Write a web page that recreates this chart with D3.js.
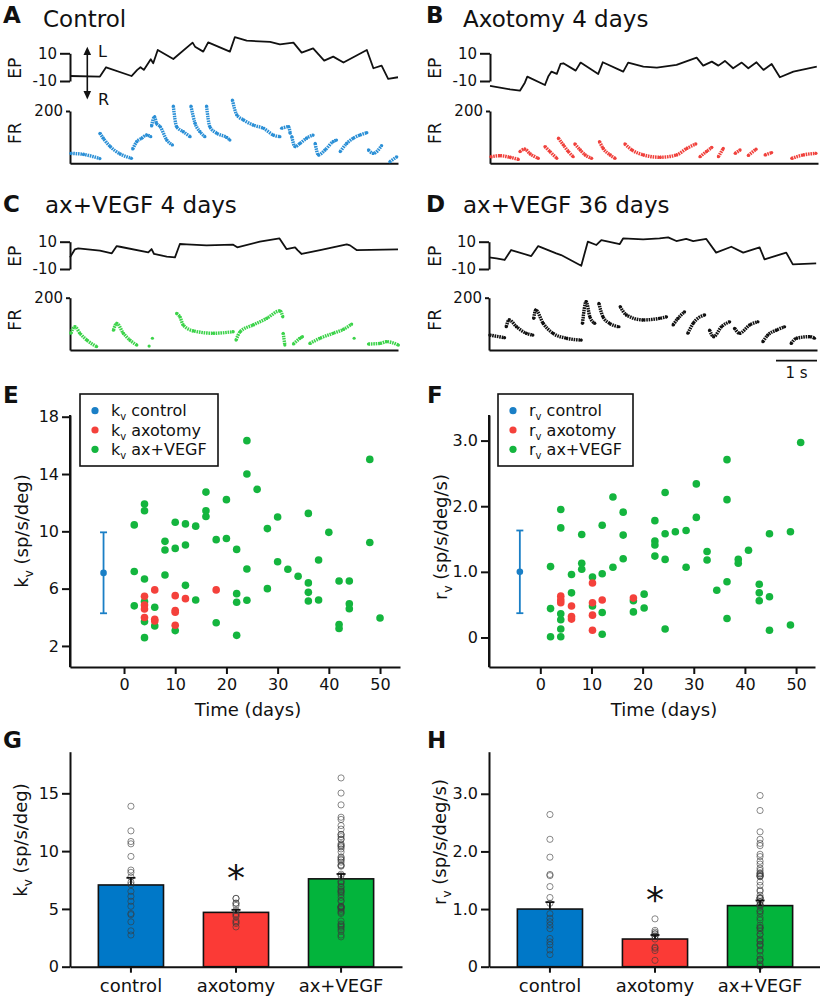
<!DOCTYPE html>
<html><head><meta charset="utf-8">
<script src="https://cdn.jsdelivr.net/npm/d3@7"></script>
<style>
body{margin:0;background:#fff;}
svg text{font-family:"DejaVu Sans",sans-serif;fill:#111;}
</style></head>
<body><svg id="fig" width="820" height="1000"></svg>
<script>
// ---------------- DATA ----------------
// Eye position (deg) vs time (s) traces
const epA = [[0,-6.4],[0.73,-6.8],[0.88,-0.1],[1.50,-6.4],[1.64,-2.0],[1.72,-0.1],[1.80,-2.0],[1.97,5.7],[2.03,2.8],[2.14,12.4],[2.52,5.9],[2.99,17.7],[3.05,14.8],[3.25,11.2],[3.37,17.9],[3.90,11.2],[4.02,21.6],[4.31,19.1],[4.88,18.2],[5.12,16.5],[5.45,17.7],[5.65,10.5],[5.93,13.6],[6.20,4.7],[6.42,7.6],[6.67,3.3],[7.24,12.4],[7.40,-0.8],[7.60,1.1],[7.76,-8.5],[8.0,-7.3]];
const epB = [[0,-13.6],[0.49,-16.0],[0.73,-17.0],[0.85,-11.2],[0.91,-6.8],[1.34,-12.9],[1.42,-6.8],[1.50,-3.2],[1.63,-4.9],[1.72,2.3],[1.79,2.8],[2.09,-2.5],[2.21,3.3],[2.64,-4.9],[2.75,3.5],[3.25,-3.2],[3.37,3.3],[3.74,0.4],[4.07,-0.3],[4.55,1.6],[5.04,6.9],[5.20,1.1],[5.41,4.0],[5.57,1.1],[5.73,4.5],[5.93,-0.8],[6.14,3.3],[6.30,-0.8],[6.50,3.5],[6.67,-2.0],[6.87,2.3],[7.07,-7.3],[7.40,-3.2],[7.97,0.4]];
const epC = [[0,-1.5],[0.12,4.4],[0.20,5.1],[0.73,3.4],[1.02,1.5],[1.14,6.8],[1.22,6.3],[1.91,2.2],[1.99,4.6],[2.05,1.0],[2.36,-1.0],[2.56,-1.5],[2.68,8.3],[2.85,8.0],[3.33,7.3],[3.98,7.8],[4.08,5.9],[4.63,10.0],[5.11,12.4],[5.28,4.6],[5.49,5.9],[5.55,3.9],[5.65,1.0],[6.10,3.9],[6.75,8.0],[6.83,7.3],[6.99,3.9],[8.0,4.4]];
const epD = [[0,-1.5],[0.18,-2.2],[0.38,-3.4],[0.54,3.9],[1.03,-0.5],[1.20,6.8],[1.64,1.5],[1.76,0.2],[2.25,-7.6],[2.41,10.0],[2.62,7.6],[2.74,11.2],[3.19,8.3],[3.27,12.4],[3.76,11.7],[4.16,12.4],[4.37,13.2],[4.57,10.5],[4.81,12.0],[4.98,10.5],[5.30,12.0],[5.54,2.0],[5.91,6.3],[6.20,2.0],[6.60,5.9],[6.72,-2.9],[7.25,2.0],[7.41,-6.6],[7.98,-5.9]];

// Firing rate (sp/s) vs time (s), one array per continuous stretch
const frA = [
 [[0.02,38],[0.33,34],[0.73,18]],
 [[0.73,115],[0.81,96],[0.98,64],[1.22,36],[1.50,19]],
 [[1.53,55],[1.63,83],[1.75,96],[1.87,108],[1.97,102]],
 [[1.99,143],[2.06,178],[2.11,153],[2.20,140],[2.36,89],[2.50,70]],
 [[2.52,219],[2.60,140],[2.76,121],[2.93,102]],
 [[2.95,219],[3.05,153],[3.17,121],[3.29,102]],
 [[3.33,219],[3.41,140],[3.58,115],[3.82,99],[3.90,89]],
 [[3.96,242],[4.07,185],[4.23,166],[4.47,146],[4.72,134],[4.96,108],[5.12,102]],
 [[5.16,134],[5.33,140],[5.37,115]],
 [[5.41,102],[5.49,64],[5.61,76],[5.77,96],[5.93,108]],
 [[5.98,76],[6.06,32],[6.22,51],[6.42,83],[6.50,89]],
 [[6.59,45],[6.75,76],[6.91,96],[7.07,108],[7.24,117]],
 [[7.28,51],[7.40,38],[7.60,68]],
 [[7.80,6],[7.97,25]]
];
const frB = [
 [[0.02,25],[0.24,29],[0.49,23],[0.69,15]],
 [[0.73,45],[0.85,54],[0.98,36],[1.18,19]],
 [[1.34,64],[1.46,45],[1.63,19]],
 [[1.67,96],[1.79,70],[1.91,45],[2.03,25]],
 [[2.07,74],[2.20,51],[2.32,32],[2.48,19]],
 [[2.67,83],[2.76,57],[2.93,32],[3.05,19]],
 [[3.29,74],[3.46,51],[3.74,32],[4.15,23],[4.55,32],[4.80,57],[5.02,74]],
 [[5.12,25],[5.28,45],[5.41,61]],
 [[5.57,25],[5.69,57]],
 [[5.98,38],[6.10,51]],
 [[6.30,30],[6.49,54]],
 [[6.71,32],[6.87,41]],
 [[7.36,19],[7.64,32],[7.95,38]]
];
const frC = [
 [[0.02,64],[0.12,89],[0.24,64],[0.41,38],[0.65,13]],
 [[1.06,76],[1.14,102],[1.30,64],[1.46,38],[1.63,19]],
 [[1.93,15]],
 [[2.01,45]],
 [[2.60,140],[2.68,127],[2.76,96],[3.01,73],[3.50,64],[3.98,70]],
 [[4.05,38],[4.15,70],[4.47,96],[4.80,121],[5.12,150],[5.19,127]],
 [[5.20,64],[5.24,19]],
 [[5.45,23],[5.61,45],[5.67,51]],
 [[5.85,25],[6.10,45],[6.42,64],[6.67,79],[6.87,99]],
 [[6.93,45]],
 [[7.28,23],[7.56,25],[7.72,32],[8.01,19]]
];
const frD = [
 [[0.02,57],[0.38,47]],
 [[0.42,89],[0.49,115],[0.67,89],[0.91,64],[1.07,57]],
 [[1.09,121],[1.14,153],[1.32,102],[1.56,64],[1.89,45],[2.25,38]],
 [[2.28,102],[2.37,185],[2.46,127],[2.58,102]],
 [[2.68,178],[2.78,127],[2.94,102],[3.17,89]],
 [[3.20,166],[3.35,134],[3.76,115],[4.16,121],[4.33,127]],
 [[4.49,96],[4.61,121],[4.77,146]],
 [[4.85,64],[4.98,102],[5.26,134]],
 [[5.38,76],[5.48,51],[5.67,89],[5.87,108]],
 [[5.99,83],[6.11,64],[6.36,96],[6.56,108]],
 [[6.68,32],[6.80,57],[7.01,76],[7.21,89]],
 [[7.37,25],[7.50,45],[7.82,51],[7.94,45]]
];

// k_v (sp/s/deg) vs days after axotomy
const kvVegf = [[2,10.45],[2,7.2],[2,4.8],[4,11.9],[4,11.44],[4,6.67],[4,5.1],[4,3.7],[4,2.58],[6,4.7],[6,3.4],[8,9.3],[8,8.7],[8,6.95],[10,10.63],[10,8.81],[10,3.07],[12,10.52],[12,9.05],[12,6.23],[14,10.36],[14,5.21],[16,12.74],[16,11.44],[16,11.04],[18,9.42],[18,3.62],[20,12.21],[20,9.5],[22,8.74],[22,5.65],[22,5.05],[22,2.74],[24,16.33],[24,14.0],[24,7.37],[24,5.19],[26,12.93],[28,10.19],[28,6.0],[30,11.0],[30,7.88],[32,7.35],[34,6.86],[36,11.25],[36,6.4],[36,5.74],[36,5.14],[38,8.0],[38,5.21],[40,9.93],[42,6.53],[42,3.5],[42,3.22],[44,6.53],[44,4.95],[44,4.6],[48,15.02],[48,9.22],[50,3.95]];
const kvAxotomy = [[4,5.47],[4,4.86],[4,4.58],[4,3.98],[6,5.91],[6,3.86],[6,3.74],[10,5.51],[10,4.47],[10,4.35],[10,3.44],[12,5.30],[18,5.91]];
const kvControl = {day:-4, mean:7.1, low:4.28, high:9.93};
const kvControlCells = [13.88,11.75,10.83,10.63,9.54,8.36,8.16,7.76,7.3,7.1,6.52,6.09,5.66,5.23,4.6,4.5,3.88,3.1,2.74];

// r_v (sp/s/deg/s) vs days after axotomy
const rvVegf = [[2,1.08],[2,0.44],[2,0.01],[4,1.95],[4,1.67],[4,0.36],[4,0.27],[4,0.13],[4,0.01],[6.1,0.96],[6.1,0.68],[8.1,1.57],[8.1,1.13],[8.1,1.04],[10.2,0.92],[10.2,0.48],[12.1,1.71],[12.1,0.97],[12.1,0.38],[12.1,0.05],[14.2,2.14],[14.2,1.07],[16.2,1.91],[16.2,1.56],[16.2,1.20],[18.2,0.56],[18.2,0.39],[20.3,0.66],[20.3,0.45],[22.4,1.78],[22.4,1.47],[22.4,1.41],[22.4,1.24],[24.4,2.21],[24.4,1.58],[24.4,1.19],[24.4,0.13],[26.4,1.61],[28.5,1.63],[28.5,1.07],[30.5,2.34],[30.5,1.83],[32.6,1.31],[32.6,1.18],[34.5,0.72],[36.5,2.71],[36.5,2.10],[36.5,0.85],[36.5,0.29],[38.7,1.19],[38.7,1.13],[40.7,1.33],[42.8,0.81],[42.8,0.68],[42.8,0.56],[44.8,1.58],[44.8,0.62],[44.8,0.11],[48.9,1.61],[48.9,0.19],[50.9,2.97]];
const rvAxotomy = [[4,0.63],[4,0.57],[4,0.53],[6.1,0.48],[6.1,0.32],[6.1,0.28],[10.2,0.83],[10.2,0.53],[10.2,0.34],[10.2,0.11],[12.1,0.57],[18.2,0.60]];
const rvControl = {day:-4, mean:1.0, low:0.37, high:1.63};
const rvControlCells = [2.64,2.21,1.90,1.60,1.58,1.39,1.20,1.10,0.92,0.84,0.78,0.72,0.66,0.49,0.43,0.38,0.29,0.21];

// bar charts
const groups = ["control","axotomy","ax+VEGF"];
const kvMeans = [7.07,4.70,7.60];
const kvSem = [0.62,0.22,0.42];
const rvMeans = [1.00,0.48,1.06];
const rvSem = [0.12,0.07,0.09];

const epTicks = [-10,10];
const frTicks = [200];
const dayTicks = [0,10,20,30,40,50];
const kvScatterTicks = [2,6,10,14,18];
const rvTicks = [0,1,2,3];
const kvBarTicks = [0,5,10,15];

// ---------------- DRAW ----------------
const svg = d3.select("#fig");
const COL = {blue:"#1a7fc6", red:"#f4413b", green:"#14b53e",
             barBlue:"#0078c8", barRed:"#fb3a36", barGreen:"#03b43c",
             frBlue:"#2a8fd6", frRed:"#f0413c", frGreen:"#3cd34a", frBlack:"#111"};

function text(x, y, s, size, o = {}) {
  const t = svg.append("text").attr("x", x).attr("y", y).attr("font-size", size).text(s);
  if (o.bold) t.attr("font-weight", "bold");
  if (o.anchor) t.attr("text-anchor", o.anchor);
  return t;
}
function vtext(x, y, size) {
  return svg.append("text").attr("transform", `translate(${x},${y}) rotate(-90)`)
    .attr("text-anchor", "middle").attr("font-size", size);
}
function styleAxis(g, size, sw = 2) {
  g.selectAll("path,line").attr("stroke", "#111").attr("stroke-width", sw);
  g.selectAll("text").attr("font-size", size).attr("font-family", "DejaVu Sans, sans-serif").attr("fill", "#111");
}
const fmt = d => String(d);

function tracePanel(c) {
  const x = d3.scaleLinear().domain([0, 8]).range([c.x0, c.x0 + 328]);
  const yEp = d3.scaleLinear().domain([-10, 10]).range([c.epBot, c.epTop]);
  const yFr = d3.scaleLinear().domain([0, 200]).range([c.frBot, c.frTop]);
  const ge = svg.append("g").attr("transform", `translate(${c.x0},0)`)
    .call(d3.axisLeft(yEp).tickValues(epTicks).tickSize(10).tickSizeOuter(0).tickPadding(3).tickFormat(fmt));
  styleAxis(ge, 15);
  svg.append("path").datum(c.ep)
    .attr("d", d3.line().x(d => x(d[0])).y(d => yEp(d[1])))
    .attr("fill", "none").attr("stroke", "#111").attr("stroke-width", 1.8).attr("stroke-linejoin", "round");
  const gf = svg.append("g").attr("transform", `translate(${c.x0},0)`)
    .call(d3.axisLeft(yFr).tickValues(frTicks).tickSize(4).tickSizeOuter(0).tickPadding(3).tickFormat(fmt));
  styleAxis(gf, 15);
  const gb = svg.append("g").attr("transform", `translate(0,${c.frBot})`)
    .call(d3.axisBottom(x).tickValues([]).tickSizeOuter(0));
  styleAxis(gb, 15);
  const line = d3.line().x(d => x(d[0])).y(d => yFr(d[1])).curve(d3.curveMonotoneX);
  c.fr.forEach(seg => {
    if (seg.length > 1) {
      svg.append("path").datum(seg).attr("d", line).attr("fill", "none")
        .attr("stroke", c.color).attr("stroke-width", 3.4).attr("stroke-dasharray", "1.6,0.8");
    }
    svg.selectAll(null).data(seg).enter().append("circle")
      .attr("cx", d => x(d[0])).attr("cy", d => yFr(d[1])).attr("r", 1.6).attr("fill", c.color);
  });
  vtext(c.labX, (c.epTop + c.epBot) / 2 + 1, 17).attr("dy", "0.35em").text("EP");
  vtext(c.labX, (c.frTop + c.frBot) / 2 - 4, 17).attr("dy", "0.35em").text("FR");
  return x;
}

// Panel titles
text(3, 23, "A", 23, {bold: true}); text(43, 26.5, "Control", 23);
text(426, 23, "B", 23, {bold: true}); text(463, 26.5, "Axotomy 4 days", 23);
text(3, 212, "C", 23, {bold: true}); text(45, 212.5, "ax+VEGF 4 days", 23);
text(426, 212, "D", 23, {bold: true}); text(463, 212.5, "ax+VEGF 36 days", 23);

tracePanel({x0: 70, epTop: 53.3, epBot: 81, frTop: 111, frBot: 163.3, ep: epA, fr: frA, color: COL.frBlue, labX: 15});
tracePanel({x0: 490, epTop: 53.3, epBot: 81, frTop: 111, frBot: 163.3, ep: epB, fr: frB, color: COL.frRed, labX: 435});
tracePanel({x0: 70, epTop: 241.7, epBot: 269, frTop: 297.7, frBot: 350, ep: epC, fr: frC, color: COL.frGreen, labX: 15});
const xD = tracePanel({x0: 489, epTop: 241.7, epBot: 269, frTop: 297.7, frBot: 350, ep: epD, fr: frD, color: COL.frBlack, labX: 435});

// L / R arrow in panel A
svg.append("line").attr("x1", 87.3).attr("x2", 87.3).attr("y1", 52).attr("y2", 95).attr("stroke", "#111").attr("stroke-width", 1.6);
svg.append("path").attr("d", "M87.3,46.7L83.5,55L91.1,55Z").attr("fill", "#111");
svg.append("path").attr("d", "M87.3,99.5L83.5,91L91.1,91Z").attr("fill", "#111");
text(98, 57, "L", 16); text(98, 105, "R", 16);

// 1 s scale bar
svg.append("line").attr("x1", xD(7)).attr("x2", xD(8)).attr("y1", 360.7).attr("y2", 360.7).attr("stroke", "#111").attr("stroke-width", 1.8);
text((xD(7) + xD(8)) / 2, 378, "1 s", 15, {anchor: "middle"});

// ---------- Scatter panels E and F ----------
function scatterPanel(c) {
  const x = d3.scaleLinear().domain(c.xDom).range([c.x0, c.x1]);
  const y = d3.scaleLinear().domain(c.yDom).range([667, c.yTopPx]);
  const gx = svg.append("g").attr("transform", "translate(0,667)")
    .call(d3.axisBottom(x).tickValues(dayTicks).tickSize(7).tickSizeOuter(0).tickPadding(5));
  styleAxis(gx, 16);
  const gy = svg.append("g").attr("transform", `translate(${c.x0},0)`)
    .call(d3.axisLeft(y).tickValues(c.yTicks).tickSize(8).tickSizeOuter(0).tickPadding(3).tickFormat(c.yFmt));
  styleAxis(gy, 16);
  svg.append("path").attr("d", `M${c.x0},${c.yTopPx}V667`).attr("stroke", "#111").attr("stroke-width", 2);
  const dots = (data, col) => svg.selectAll(null).data(data).enter().append("circle")
    .attr("cx", d => x(d[0])).attr("cy", d => y(d[1])).attr("r", 3.8).attr("fill", col);
  dots(c.vegf, COL.green);
  dots(c.axo, COL.red);
  const cx = x(c.ctrl.day);
  svg.append("line").attr("x1", cx).attr("x2", cx).attr("y1", y(c.ctrl.low)).attr("y2", y(c.ctrl.high)).attr("stroke", COL.blue).attr("stroke-width", 1.8);
  [c.ctrl.low, c.ctrl.high].forEach(v => svg.append("line").attr("x1", cx - 3.5).attr("x2", cx + 3.5)
    .attr("y1", y(v)).attr("y2", y(v)).attr("stroke", COL.blue).attr("stroke-width", 1.8));
  svg.append("circle").attr("cx", cx).attr("cy", y(c.ctrl.mean)).attr("r", 3.3).attr("fill", COL.blue);
  // legend
  const lx = c.legX, ly = 394;
  svg.append("rect").attr("x", lx).attr("y", ly).attr("width", c.legW).attr("height", 72)
    .attr("fill", "#fff").attr("stroke", "#111").attr("stroke-width", 1.6);
  const items = [["control", COL.blue], ["axotomy", COL.red], ["ax+VEGF", COL.green]];
  items.forEach((it, i) => {
    const yy = ly + 16.7 + i * 19.3;
    svg.append("circle").attr("cx", lx + 15).attr("cy", yy).attr("r", 3.6).attr("fill", it[1]);
    const t = svg.append("text").attr("x", lx + 31).attr("y", yy + 5.5).attr("font-size", 16);
    t.append("tspan").text(c.sym);
    t.append("tspan").attr("font-size", 10).attr("dy", 4).text("v");
    t.append("tspan").attr("dy", -4).text(" " + it[0]);
  });
  text((c.x0 + c.x1) / 2 + c.xLabShift, 716, "Time (days)", 18, {anchor: "middle"});
  const yl = vtext(c.yLabX, c.yLabY, 18).attr("dy", "0.35em");
  yl.append("tspan").text(c.sym);
  yl.append("tspan").attr("font-size", 12).attr("dy", 5).text("v");
  yl.append("tspan").attr("dy", -5).text(c.unit);
}

scatterPanel({x0: 70, x1: 400, xDom: [-10.55, 53.9], yDom: [0.53, 18.12], yTopPx: 415,
  yTicks: kvScatterTicks, yFmt: fmt, vegf: kvVegf, axo: kvAxotomy, ctrl: kvControl,
  legX: 80, legW: 138, sym: "k", unit: " (sp/s/deg)", yLabX: 22, yLabY: 531, xLabShift: 13});
scatterPanel({x0: 489, x1: 815, xDom: [-10.03, 53.7], yDom: [-0.45, 3.39], yTopPx: 415,
  yTicks: rvTicks, yFmt: d => d === 0 ? "0" : d.toFixed(1), vegf: rvVegf, axo: rvAxotomy, ctrl: rvControl,
  legX: 498, legW: 135, sym: "r", unit: " (sp/s/deg/s)", yLabX: 441, yLabY: 537, xLabShift: 12});
text(3, 403, "E", 23, {bold: true});
text(427, 403, "F", 23, {bold: true});

// ---------- Bar panels G and H ----------
function barPanel(c) {
  const x = d3.scaleBand().domain(groups).range([c.x0, c.x0 + 332]).paddingInner(0.38).paddingOuter(0.27);
  const y = d3.scaleLinear().domain(c.yDom).range([966.7, 751.7]);
  const cols = [COL.barBlue, COL.barRed, COL.barGreen];
  svg.selectAll(null).data(groups).enter().append("rect")
    .attr("x", d => x(d)).attr("width", x.bandwidth())
    .attr("y", (d, i) => y(c.means[i])).attr("height", (d, i) => y(0) - y(c.means[i]))
    .attr("fill", (d, i) => cols[i]).attr("stroke", "#111").attr("stroke-width", 1.6);
  c.cells.forEach((vals, i) => {
    const cx = x(groups[i]) + x.bandwidth() / 2;
    svg.selectAll(null).data(vals).enter().append("circle")
      .attr("cx", cx).attr("cy", d => y(d)).attr("r", 3.1)
      .attr("fill", "none").attr("stroke", "#3a3a3a").attr("stroke-opacity", 0.6).attr("stroke-width", 1);
  });
  groups.forEach((g, i) => {
    const cx = x(g) + x.bandwidth() / 2;
    const top = y(c.means[i] + c.sem[i]);
    svg.append("line").attr("x1", cx).attr("x2", cx).attr("y1", y(c.means[i])).attr("y2", top).attr("stroke", "#111").attr("stroke-width", 1.8);
    svg.append("line").attr("x1", cx - 4.5).attr("x2", cx + 4.5).attr("y1", top).attr("y2", top).attr("stroke", "#111").attr("stroke-width", 1.8);
  });
  const gx = svg.append("g").attr("transform", "translate(0,966.7)")
    .call(d3.axisBottom(x).tickSize(6).tickSizeOuter(0).tickPadding(7));
  styleAxis(gx, 18);
  const gy = svg.append("g").attr("transform", `translate(${c.x0},0)`)
    .call(d3.axisLeft(y).tickValues(c.yTicks).tickSize(8).tickSizeOuter(0).tickPadding(3).tickFormat(c.yFmt));
  styleAxis(gy, 16);
  const ax = x("axotomy") + x.bandwidth() / 2;
  text(ax, c.starY, "*", 36, {anchor: "middle"});
  const yl = vtext(c.yLabX, c.yLabY, 18).attr("dy", "0.35em");
  yl.append("tspan").text(c.sym);
  yl.append("tspan").attr("font-size", 12).attr("dy", 5).text("v");
  yl.append("tspan").attr("dy", -5).text(c.unit);
}
barPanel({x0: 70, yDom: [0, 18.6], means: kvMeans, sem: kvSem,
  cells: [kvControlCells, kvAxotomy.map(d => d[1]), kvVegf.map(d => d[1])],
  yTicks: kvBarTicks, yFmt: fmt, starY: 890, yLabX: 21, yLabY: 840, sym: "k", unit: " (sp/s/deg)"});
barPanel({x0: 489, yDom: [0, 3.73], means: rvMeans, sem: rvSem,
  cells: [rvControlCells, rvAxotomy.map(d => d[1]), rvVegf.map(d => d[1])],
  yTicks: rvTicks, yFmt: d => d === 0 ? "0" : d.toFixed(1), starY: 912, yLabX: 440, yLabY: 842, sym: "r", unit: " (sp/s/deg/s)"});
text(3, 748, "G", 23, {bold: true});
text(427, 748, "H", 23, {bold: true});
</script>
</body></html>
